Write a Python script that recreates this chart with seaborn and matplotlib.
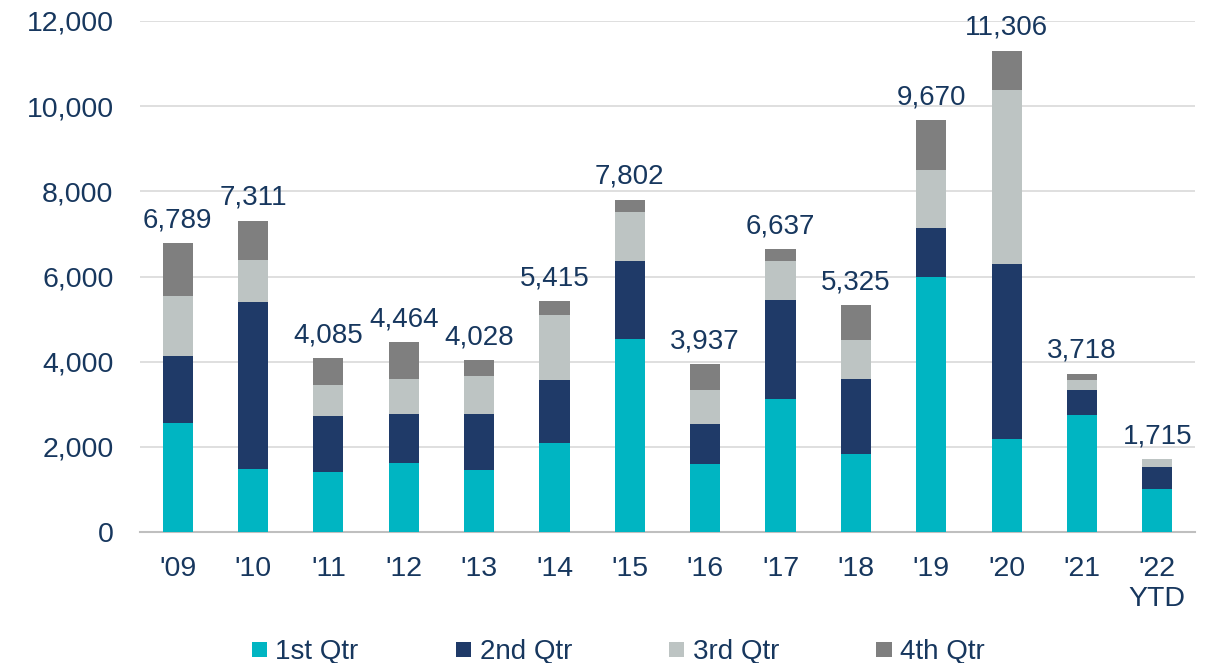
import numpy as np
import pandas as pd
import matplotlib
matplotlib.use("Agg")
import matplotlib.pyplot as plt
from matplotlib.patches import Patch
import seaborn as sns

# data (units per quarter)
years = ["'09", "'10", "'11", "'12", "'13", "'14", "'15", "'16", "'17", "'18", "'19", "'20", "'21", "'22\nYTD"]
q1 = [2570, 1470, 1410, 1620, 1450, 2100, 4525, 1600, 3120, 1840, 6000, 2190, 2750, 1020]
q2 = [1560, 3940, 1310, 1150, 1320, 1480, 1845, 925, 2330, 1760, 1150, 4110, 590, 510]
q3 = [1410, 980, 740, 830, 890, 1515, 1145, 800, 925, 900, 1340, 4070, 240, 185]
totals = [6789, 7311, 4085, 4464, 4028, 5415, 7802, 3937, 6637, 5325, 9670, 11306, 3718, 1715]

quarters = ["1st Qtr", "2nd Qtr", "3rd Qtr", "4th Qtr"]
colors = ["#00B5C2", "#1F3A68", "#BDC4C3", "#7F7F7F"]
text_color = "#17375E"

df = pd.DataFrame({"year": years, "q1": q1, "q2": q2, "q3": q3, "total": totals})
df["c1"] = df["q1"]
df["c2"] = df["c1"] + df["q2"]
df["c3"] = df["c2"] + df["q3"]

sns.set_theme(style="white")
plt.rcParams["font.family"] = ["Liberation Sans", "DejaVu Sans"]

fig = plt.figure(figsize=(12.1, 6.63), dpi=100)
ax = fig.add_axes([140 / 1210, 1 - 532 / 663, (1195 - 140) / 1210, (532 - 21) / 663])

# stacked bars drawn from the top layer down
for col, c in zip(["total", "c3", "c2", "c1"], colors[::-1]):
    sns.barplot(data=df, x="year", y=col, color=c, width=0.4, ax=ax,
                saturation=1, edgecolor="none", linewidth=0, zorder=3)

for i, t in enumerate(totals):
    ax.text(i, t + 230, f"{t:,}", ha="center", va="bottom", fontsize=20,
            color=text_color, clip_on=False)

ax.set_xlim(-0.5, 13.5)
ax.set_ylim(0, 12000)
ax.set_yticks(np.arange(0, 12001, 2000))
ax.set_yticklabels([f"{v:,}" for v in range(0, 12001, 2000)])
ax.yaxis.grid(True, color="#D9D9D9", linewidth=1.2, zorder=0)
ax.set_axisbelow(True)
for s in ["top", "right", "left"]:
    ax.spines[s].set_visible(False)
ax.spines["bottom"].set_color("#BFBFBF")
ax.spines["bottom"].set_linewidth(1.5)
ax.tick_params(axis="both", length=0, labelsize=20.5, labelcolor=text_color)
ax.tick_params(axis="x", pad=17)
ax.tick_params(axis="y", pad=19)
ax.set_xlabel("")
ax.set_ylabel("")

handles = [Patch(facecolor=c, edgecolor="none") for c in colors]
fig.legend(handles, quarters, loc="center", bbox_to_anchor=(0.511, 0.016),
           ncol=4, frameon=False, fontsize=20, labelcolor=text_color,
           handlelength=0.55, handleheight=0.5, handletextpad=0.3, columnspacing=3.5)

fig.savefig("out.png", dpi=100)
